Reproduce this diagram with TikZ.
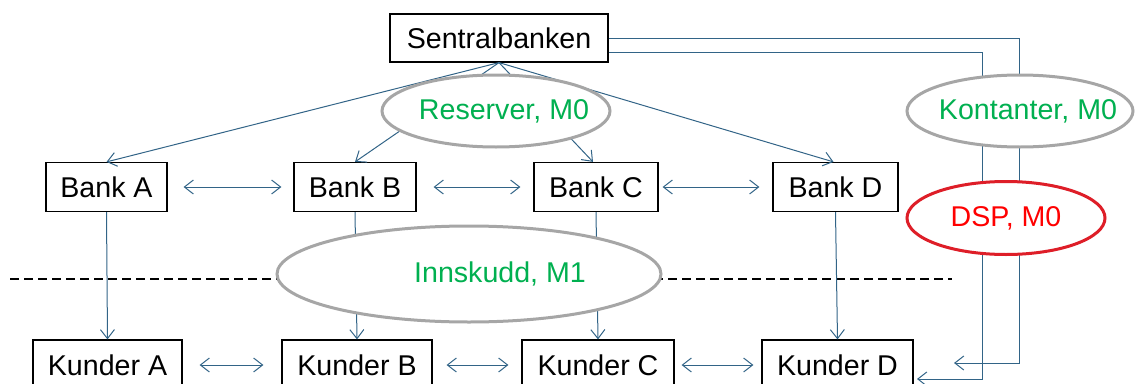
\documentclass[tikz,border=0pt]{standalone}
\usepackage{fontspec}
\setmainfont{Liberation Sans}
\usepackage{tikz}
\usetikzlibrary{shapes.geometric,arrows.meta}
\definecolor{linkblue}{RGB}{50,100,135}
\definecolor{ringgray}{RGB}{166,166,166}
\definecolor{moneygreen}{RGB}{0,176,80}
\definecolor{dspred}{RGB}{222,30,40}

\begin{document}
\begin{tikzpicture}[x=1pt, y=-1pt,
  box/.style={rectangle, draw, line width=1.2pt, fill=white,
              minimum width=#1, minimum height=49pt, inner sep=0pt,
              font=\fontsize{28.6}{33}\selectfont},
  box/.default={122pt},
  ring/.style={ellipse, draw=#1, line width=3pt, fill=white, inner sep=0pt,
               font=\fontsize{28.6}{33}\selectfont, text=moneygreen},
  ring/.default={ringgray},
  ringtext/.style={font=\fontsize{28.6}{33}\selectfont, text=moneygreen},
  arrow/.style={-{Straight Barb[length=9pt,width=14pt]}, line width=1pt, color=linkblue},
  dbl/.style={{Straight Barb[length=9pt,width=14pt]}-{Straight Barb[length=9pt,width=14pt]},
              line width=1pt, color=linkblue},
  dash line/.style={line width=1.5pt, dash pattern=on 9pt off 5pt}
]
  \useasboundingbox (0,0) rectangle (1135,383);

  % Central bank
  \node[box=218pt, minimum height=48pt] (sb) at (499,38) {Sentralbanken};

  % Banks
  \node[box=121pt] (bankA) at (106.5,187) {Bank A};
  \node[box=122pt] (bankB) at (355,187) {Bank B};
  \node[box=124pt] (bankC) at (596,187) {Bank C};
  \node[box=125pt] (bankD) at (835.5,187) {Bank D};

  % Customers
  \node[box=149pt, minimum height=50pt] (kundA) at (107.5,365) {Kunder A};
  \node[box=150pt, minimum height=50pt] (kundB) at (357,365) {Kunder B};
  \node[box=152pt, minimum height=50pt] (kundC) at (598,365) {Kunder C};
  \node[box=151pt, minimum height=50pt] (kundD) at (837.5,365) {Kunder D};

  % Free ends
  \coordinate (dashL) at (10,279);
  \coordinate (dashR) at (952,279);
  \coordinate (cashEnd) at (954,363);
  \coordinate (dspEnd) at (917,379);

  % Dashed border
  \draw[dash line] (dashL) -- (dashR);

  % Reserves
  \draw[arrow] (sb.south) -- (bankA.north);
  \draw[arrow] (sb.south) -- (bankB.north);
  \draw[arrow] (sb.south) -- ([xshift=-3pt]bankC.north);
  \draw[arrow] (sb.south) -- ([xshift=-2pt]bankD.north);

  % Between banks
  \draw[dbl] ([xshift=16pt]bankA.east) -- ([xshift=-12pt]bankB.west);
  \draw[dbl] ([xshift=17pt]bankB.east) -- ([xshift=-13pt]bankC.west);
  \draw[dbl] ([xshift=4pt]bankC.east) -- ([xshift=-13pt]bankD.west);

  % Deposits
  \draw[arrow] (bankA.south) -- (kundA.north);
  \draw[arrow] (bankB.south) -- (kundB.north);
  \draw[arrow] (bankC.south) -- (kundC.north);
  \draw[arrow] (bankD.south) -- (kundD.north);

  % Between customers
  \draw[dbl] ([xshift=17pt]kundA.east) -- ([xshift=-18pt]kundB.west);
  \draw[dbl] ([xshift=14pt]kundB.east) -- ([xshift=-13pt]kundC.west);
  \draw[dbl] ([xshift=7pt]kundC.east) -- ([xshift=-8pt]kundD.west);

  % Cash and DSP
  \draw[arrow] (sb.east) -| (1019,363) -- (cashEnd);
  \draw[arrow] ([yshift=-14pt]sb.east) -| (982,379) -- (dspEnd);

  % Money kinds
  \node[ring, minimum width=228pt, minimum height=72pt] (res) at (496,111) {};
  \node[ringtext] (reslbl) at (504,111) {Reserver, M0};
  \node[ring, minimum width=384pt, minimum height=96pt] (inn) at (469,274) {};
  \node[ringtext] (innlbl) at (500,274) {Innskudd, M1};
  \node[ring, minimum width=226pt, minimum height=72pt] (kon) at (1020,111) {};
  \node[ringtext] (konlbl) at (1028,111) {Kontanter, M0};
  \node[ring=dspred, text=red, minimum width=198pt, minimum height=73pt] (dsp) at (1006,218) {DSP, M0};
\end{tikzpicture}
\end{document}
